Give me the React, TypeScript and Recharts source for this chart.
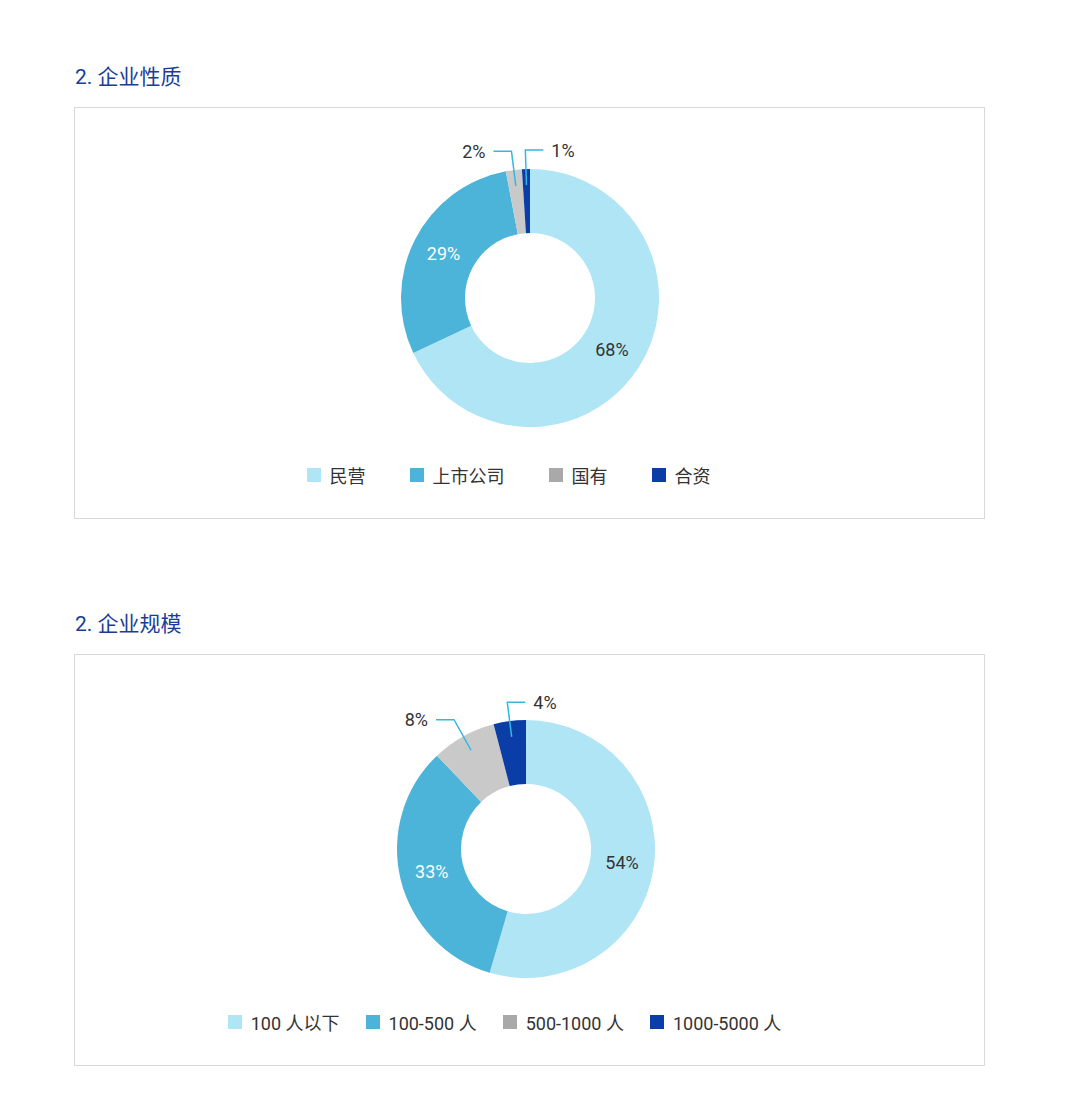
import React from "react";
import { PieChart, Pie, Cell, Legend } from "recharts";

const natureNames = ["民营", "上市公司", "国有", "合资"];
const natureValues = [68, 29, 2, 1];

const sizeNames = ["100 人以下", "100-500 人", "500-1000 人", "1000-5000 人"];
const sizeValues = [54, 33, 8, 4];

const sliceColors = ["#afe5f5", "#4cb3d9", "#c9c9c9", "#0a3ea6"];
const swatchColors = ["#afe5f5", "#4cb3d9", "#a9a9a9", "#0a3ea6"];
const leaderColor = "#34b7e0";
const font = 'Roboto, "Noto Sans CJK SC", "Noto Sans", sans-serif';
const RAD = Math.PI / 180;

function makeLabel(count: number) {
  return (props: any) => {
    const { cx, cy, midAngle, innerRadius, outerRadius, value, index } = props;
    const cos = Math.cos(-midAngle * RAD);
    const sin = Math.sin(-midAngle * RAD);
    if (value >= 10) {
      const r = (innerRadius + outerRadius) / 2;
      return (
        <text
          x={cx + r * cos}
          y={cy + r * sin}
          fill={index === 0 ? "#333" : "#fff"}
          fontSize={18}
          fontFamily={font}
          textAnchor="middle"
          dominantBaseline="central"
        >
          {value}%
        </text>
      );
    }
    const r0 = outerRadius - 16;
    const r1 = outerRadius + 19;
    const x0 = cx + r0 * cos;
    const y0 = cy + r0 * sin;
    const x1 = cx + r1 * cos;
    const y1 = cy + r1 * sin;
    const right = index === count - 1;
    const x2 = x1 + (right ? 18 : -18);
    return (
      <g>
        <polyline
          points={`${x0},${y0} ${x1},${y1} ${x2},${y1}`}
          fill="none"
          stroke={leaderColor}
          strokeWidth={1.5}
        />
        <text
          x={x2 + (right ? 8 : -8)}
          y={y1}
          fill="#333"
          fontSize={18}
          fontFamily={font}
          textAnchor={right ? "start" : "end"}
          dominantBaseline="central"
        >
          {value}%
        </text>
      </g>
    );
  };
}

function LegendRow({ payload, gap, names }: any) {
  const items = [...(payload || [])].sort(
    (a: any, b: any) => names.indexOf(a.value) - names.indexOf(b.value)
  );
  return (
    <div style={{ display: "flex", justifyContent: "center", gap }}>
      {items.map((p: any) => {
        const i = names.indexOf(p.value);
        return (
          <div key={p.value} style={{ display: "flex", alignItems: "center" }}>
            <span
              style={{
                width: 14,
                height: 14,
                background: swatchColors[i],
                marginRight: 9,
                display: "inline-block",
              }}
            />
            <span style={{ fontSize: 18, color: "#333", fontFamily: font }}>{p.value}</span>
          </div>
        );
      })}
    </div>
  );
}

type PanelProps = {
  title: string;
  names: string[];
  values: number[];
  top: number;
  cx: number;
  cy: number;
  gap: number;
  shift: number;
};

function Panel({ title, names, values, top, cx, cy, gap, shift }: PanelProps) {
  const data = names.map((name, i) => ({ name, value: values[i] }));
  return (
    <>
      <div
        style={{
          position: "absolute",
          left: 75,
          top: top - 44,
          fontSize: 21,
          color: "#1a3e96",
          fontFamily: font,
          lineHeight: "28px",
        }}
      >
        {title}
      </div>
      <div
        style={{
          position: "absolute",
          left: 74,
          top,
          width: 911,
          height: 412,
          border: "1px solid #d9d9d9",
          boxSizing: "border-box",
        }}
      >
        <PieChart width={909} height={410}>
          <Pie
            data={data}
            dataKey="value"
            nameKey="name"
            cx={cx}
            cy={cy}
            innerRadius={65}
            outerRadius={129}
            startAngle={90}
            endAngle={-270}
            stroke="none"
            labelLine={false}
            label={makeLabel(data.length)}
            isAnimationActive={false}
          >
            {data.map((_, i) => (
              <Cell key={i} fill={sliceColors[i]} />
            ))}
          </Pie>
          <Legend
            verticalAlign="bottom"
            itemSorter={null as any}
            wrapperStyle={{ top: 354, bottom: "auto", left: shift, width: 909 }}
            content={(p: any) => <LegendRow payload={p.payload} gap={gap} names={names} />}
          />
        </PieChart>
      </div>
    </>
  );
}

export default function App() {
  return (
    <div
      style={{
        position: "absolute",
        left: 0,
        top: 0,
        width: 1080,
        height: 1114,
        background: "#fff",
        fontFamily: font,
      }}
    >
      <Panel title="2. 企业性质" names={natureNames} values={natureValues} top={107} cx={450} cy={185} gap={44} shift={-21} />
      <Panel title="2. 企业规模" names={sizeNames} values={sizeValues} top={654} cx={446} cy={189} gap={26} shift={-25} />
    </div>
  );
}
